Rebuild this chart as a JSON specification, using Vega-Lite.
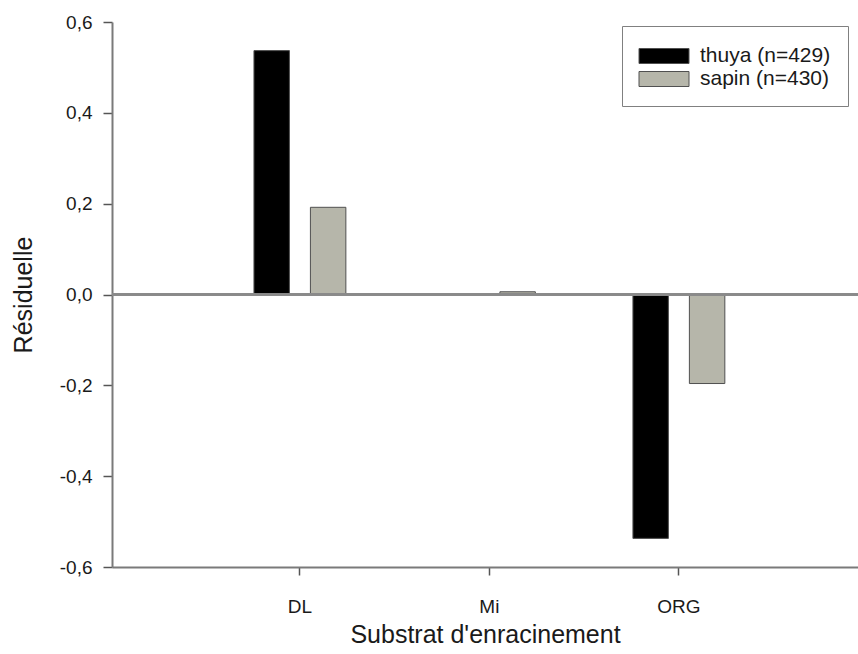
{
  "$schema": "https://vega.github.io/schema/vega-lite/v6.json",
  "autosize": {"type": "none"},
  "width": 746,
  "height": 545,
  "padding": {"left": 112, "top": 22, "right": 0, "bottom": 87},
  "background": "white",
  "config": {
    "view": {"stroke": null},
    "font": "Liberation Sans",
    "axis": {
      "domainColor": "#7a7a7a",
      "domainWidth": 2,
      "tickColor": "#555555",
      "tickWidth": 1.5,
      "labelColor": "#1a1a1a",
      "titleColor": "#1a1a1a",
      "labelFont": "Liberation Sans",
      "titleFont": "Liberation Sans",
      "titleFontWeight": "normal",
      "grid": false
    }
  },
  "data": {
    "values": [
      {"substrat": "DL", "espece": "thuya (n=429)", "residuelle": 0.537},
      {"substrat": "DL", "espece": "sapin (n=430)", "residuelle": 0.192},
      {"substrat": "Mi", "espece": "thuya (n=429)", "residuelle": 0.0},
      {"substrat": "Mi", "espece": "sapin (n=430)", "residuelle": 0.006},
      {"substrat": "ORG", "espece": "thuya (n=429)", "residuelle": -0.537},
      {"substrat": "ORG", "espece": "sapin (n=430)", "residuelle": -0.196}
    ]
  },
  "layer": [
    {
      "mark": {"type": "bar", "stroke": "#505050", "strokeWidth": 1},
      "encoding": {
        "x": {
          "field": "substrat",
          "type": "nominal",
          "sort": ["DL", "Mi", "ORG"],
          "scale": {"paddingInner": 0.515, "paddingOuter": 0.726, "align": 0.516},
          "axis": {
            "title": "Substrat d'enracinement",
            "titleFontSize": 25,
            "titlePadding": 6,
            "labelFontSize": 19,
            "labelAngle": 0,
            "labelPadding": 22,
            "tickSize": 8,
            "domainColor": "#7a7a7a"
          }
        },
        "xOffset": {
          "field": "espece",
          "type": "nominal",
          "sort": ["thuya (n=429)", "sapin (n=430)"],
          "scale": {"paddingInner": 0.372, "paddingOuter": 0}
        },
        "y": {
          "field": "residuelle",
          "type": "quantitative",
          "scale": {"domain": [-0.6, 0.6], "nice": false},
          "axis": {
            "title": "Résiduelle",
            "titleFontSize": 25,
            "titlePadding": 23,
            "labelFontSize": 19,
            "labelPadding": 11,
            "tickSize": 9,
            "values": [-0.6, -0.4, -0.2, 0, 0.2, 0.4, 0.6],
            "labelExpr": "replace(replace(format(datum.value, '.1f'), '.', ','), '\u2212', '-')"
          }
        },
        "color": {
          "field": "espece",
          "type": "nominal",
          "sort": ["thuya (n=429)", "sapin (n=430)"],
          "scale": {"range": ["#000000", "#b6b6aa"]},
          "legend": {
            "title": null,
            "orient": "none",
            "legendX": 510,
            "legendY": 4,
            "strokeColor": "#808080",
            "fillColor": "white",
            "padding": 17,
            "symbolOffset": 12,
            "symbolType": "M-2,-0.6H2V0.6H-2Z",
            "symbolSize": 625,
            "symbolStrokeColor": "#505050",
            "symbolStrokeWidth": 1,
            "symbolOpacity": 1,
            "labelFontSize": 21,
            "labelOffset": 23,
            "labelColor": "#1a1a1a",
            "rowPadding": 0
          }
        }
      }
    },
    {
      "mark": {"type": "rule", "color": "#8a8a8a", "strokeWidth": 2},
      "encoding": {"y": {"datum": 0, "type": "quantitative"}}
    }
  ]
}
